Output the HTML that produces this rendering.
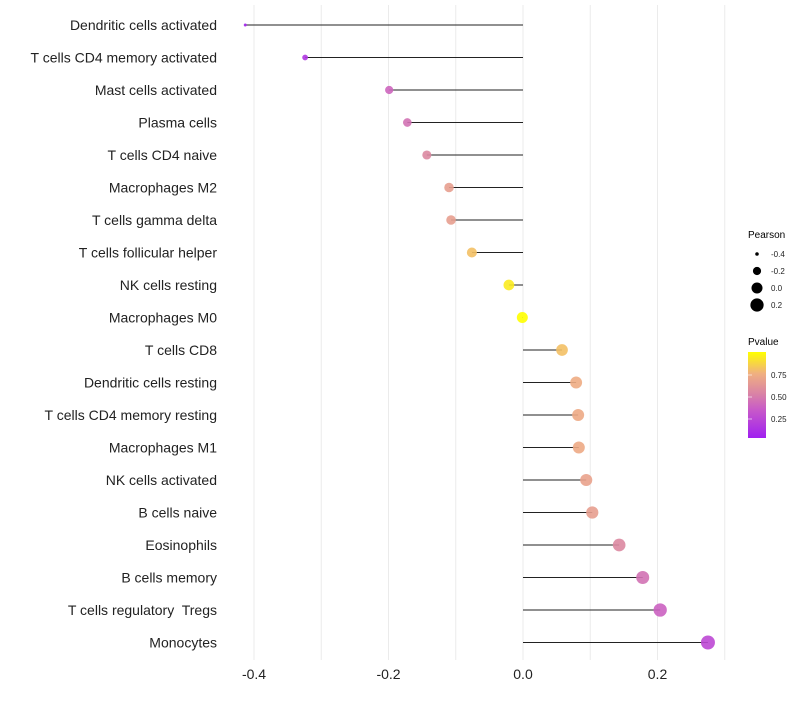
<!DOCTYPE html>
<html><head><meta charset="utf-8"><style>
body{margin:0;background:#fff;font-family:"Liberation Sans",sans-serif}
text{white-space:pre}
</style></head><body>
<svg id="chart" width="800" height="700">
<defs><linearGradient id="pg" x1="0" y1="1" x2="0" y2="0">
<stop offset="0" stop-color="#A020F0"/><stop offset="0.33" stop-color="#C85AC8"/><stop offset="0.5" stop-color="#D880A8"/><stop offset="0.75" stop-color="#F0B080"/><stop offset="1" stop-color="#FFFF00"/></linearGradient></defs>
<g id="grid"></g><g id="marks"></g><g id="axes"></g>
<g>
<text x="748" y="238" font-size="10">Pearson</text>
<g id="sizeleg"></g>
<text x="748" y="345" font-size="10">Pvalue</text>
<rect x="748" y="352" width="18" height="86" fill="url(#pg)"/>
<g id="colleg"></g>
</g>
</svg>
<script>
const cells=["Dendritic cells activated","T cells CD4 memory activated","Mast cells activated","Plasma cells","T cells CD4 naive","Macrophages M2","T cells gamma delta","T cells follicular helper","NK cells resting","Macrophages M0","T cells CD8","Dendritic cells resting","T cells CD4 memory resting","Macrophages M1","NK cells activated","B cells naive","Eosinophils","B cells memory","T cells regulatory  Tregs","Monocytes"];
const pearson=[-0.413,-0.324,-0.199,-0.172,-0.143,-0.110,-0.107,-0.076,-0.021,-0.001,0.058,0.079,0.082,0.083,0.094,0.103,0.143,0.178,0.204,0.275];
const pvalue=[0.05,0.15,0.40,0.45,0.55,0.66,0.66,0.80,0.93,0.99,0.80,0.73,0.72,0.72,0.68,0.66,0.55,0.45,0.38,0.25];
const xTicks=[-0.4,-0.2,0.0,0.2];
const xTickLabels=["-0.4","-0.2","0.0","0.2"];
const sizeLegVals=[-0.4,-0.2,0.0,0.2];
const pTicks=[0.25,0.5,0.75];
const pTickLabels=["0.25","0.50","0.75"];
const NS="http://www.w3.org/2000/svg";
const X=v=>523+v*672.5, Y=i=>25+i*32.5;
const R=v=>Math.sqrt(2.25+68*(v+0.413));
const PY=p=>419-(p-0.25)*88;
const stops=[[0,[160,32,240]],[0.33,[200,90,200]],[0.5,[216,128,168]],[0.75,[240,176,128]],[1,[255,255,0]]];
function col(p){let t=(p-0.03)/(0.99-0.03);t=Math.max(0,Math.min(1,t));
for(let k=1;k<stops.length;k++){if(t<=stops[k][0]){const a=stops[k-1],b=stops[k],f=(t-a[0])/(b[0]-a[0]);
return "rgb("+a[1].map((c,j)=>Math.round(c+(b[1][j]-c)*f)).join(",")+")";}}return "rgb(255,255,0)";}
function mk(tag,at,par){const e=document.createElementNS(NS,tag);for(const k in at)e.setAttribute(k,at[k]);document.getElementById(par).appendChild(e);return e;}
for(let v=-0.4;v<=0.31;v+=0.1){const g=mk("line",{x1:X(v),x2:X(v),y1:5,y2:660,stroke:"#ebebeb","stroke-width":1},"grid");

}
xTicks.forEach((v,i)=>{const t=mk("text",{x:X(v),y:679,"font-size":14,"text-anchor":"middle",fill:"#222"},"axes");t.textContent=xTickLabels[i];

});
cells.forEach((c,i)=>{const t=mk("text",{x:217,y:Y(i)+5,"font-size":14,"text-anchor":"end",fill:"#222"},"axes");t.textContent=c;


const l=mk("line",{x1:X(pearson[i]),x2:X(0),y1:Y(i),y2:Y(i),stroke:"#222","stroke-width":1},"marks");


const d=mk("circle",{cx:X(pearson[i]),cy:Y(i),r:R(pearson[i]),fill:col(pvalue[i]),"fill-opacity":0.9},"marks");

});
sizeLegVals.forEach((v,i)=>{const cy=254+i*17;const d=mk("circle",{cx:757,cy:cy,r:R(v),fill:"#000"},"sizeleg");


const t=mk("text",{x:771,y:cy+3,"font-size":8,fill:"#222"},"sizeleg");t.textContent=["-0.4","-0.2","0.0","0.2"][i];

});
pTicks.forEach((p,i)=>{const t=mk("text",{x:771,y:PY(p)+3,"font-size":8,fill:"#222"},"colleg");t.textContent=pTickLabels[i];


const l=mk("line",{x1:748,x2:752,y1:PY(p),y2:PY(p),stroke:"#fff","stroke-opacity":0.6},"colleg");

});
</script>
</body></html>
